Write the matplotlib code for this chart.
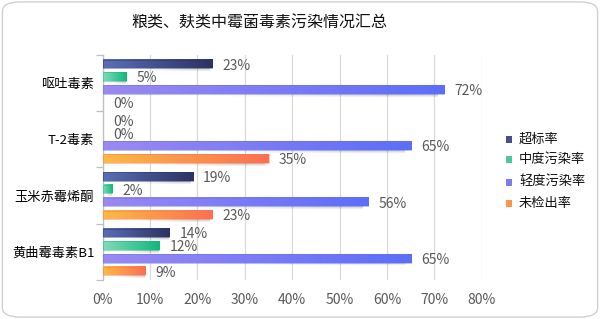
import matplotlib
matplotlib.use("Agg")
import matplotlib.pyplot as plt
import numpy as np
from matplotlib.colors import LinearSegmentedColormap, to_rgb
from matplotlib.patches import FancyBboxPatch, Rectangle

plt.rcParams['font.family'] = ['Noto Sans CJK SC', 'DejaVu Sans']

title = "粮类、麸类中霉菌毒素污染情况汇总"
categories = ["呕吐毒素", "T-2毒素", "玉米赤霉烯酮", "黄曲霉毒素B1"]
series = ["超标率", "中度污染率", "轻度污染率", "未检出率"]
exceed = [23, 0, 19, 14]
moderate = [5, 0, 2, 12]
light = [72, 65, 56, 65]
undetected = [0, 35, 23, 9]
xticks = [0, 10, 20, 30, 40, 50, 60, 70, 80]

values = [exceed, moderate, light, undetected]
grads = [("#5b6eb8", "#2c3262"), ("#80dbb7", "#10b87c"),
         ("#9c89f1", "#5c6ef8"), ("#fbba44", "#fd6f52")]

fig = plt.figure(figsize=(6.0, 3.19), dpi=100)
fig.patch.set_facecolor("white")
border = FancyBboxPatch((0.004, 0.006), 0.992, 0.988,
                        boxstyle="round,pad=0,rounding_size=0.03",
                        transform=fig.transFigure, facecolor="white",
                        edgecolor="#d0d0d0", linewidth=1.0, zorder=-10)
fig.patches.append(border)

ax = fig.add_axes([0.171, 0.122, 0.632, 0.706])
ax.set_facecolor("none")

step = 0.227
h = 0.15
offsets = [-1.5 * step, -0.5 * step, 0.5 * step, 1.5 * step]
ycent = np.arange(len(categories))

for si, vals in enumerate(values):
    c0, c1 = grads[si]
    cmap = LinearSegmentedColormap.from_list(f"g{si}", [c0, c1])
    for gi, v in enumerate(vals):
        yc = ycent[gi] + offsets[si]
        if v > 0:
            # soft shadow
            sh = np.zeros((6, 50, 4))
            xs = np.linspace(0, 1, 50)
            ys = np.linspace(1, 0, 6)
            a = 0.28 * np.clip(xs * 1.6 - 0.3, 0, 1)[None, :] * ys[:, None]
            sh[..., 3] = a
            ax.imshow(sh, extent=[v * 0.15, v * 0.98, yc + h / 2 + 0.07, yc + h / 2 - 0.005],
                      aspect="auto", interpolation="bilinear", zorder=2)
            grad = np.linspace(0, 1, 256)[None, :]
            ax.imshow(grad, cmap=cmap, extent=[0, v, yc + h / 2, yc - h / 2],
                      aspect="auto", interpolation="bilinear", zorder=3)
            ax.add_patch(Rectangle((0, yc - h / 2), v, h, facecolor="none",
                                   edgecolor=c1, linewidth=0.6, alpha=0.5, zorder=4))
        ax.text(v + 2.2, yc + 0.03, f"{v}%", va="center", ha="left",
                fontsize=10, color="#595959", zorder=5)

ax.set_xlim(0, 80)
ax.set_ylim(len(categories) - 0.5, -0.5)
ax.set_xticks(xticks)
ax.set_xticklabels([f"{t}%" for t in xticks], fontsize=10, color="#595959")
ax.tick_params(axis="x", length=0, pad=9)
ax.grid(axis="x", color="#d9d9d9", linewidth=0.9, zorder=0)
ax.set_axisbelow(True)

ax.set_yticks(ycent)
ax.set_yticklabels(categories, fontsize=9.5, color="#000000")
ax.tick_params(axis="y", length=0, pad=6)
ax.set_yticks(np.arange(-0.5, len(categories) + 0.5, 1), minor=True)
ax.tick_params(axis="y", which="minor", length=5, color="#bfbfbf", width=0.9)

for s in ["top", "right", "bottom"]:
    ax.spines[s].set_visible(False)
ax.spines["left"].set_color("#bfbfbf")
ax.spines["left"].set_linewidth(0.9)

fig.text(0.433, 0.927, title, ha="center", va="center", fontsize=11.5, color="#111111")

# legend
leg_y = [0.565, 0.500, 0.430, 0.363]
for si, name in enumerate(series):
    c0, c1 = grads[si]
    mix = tuple((np.array(to_rgb(c0)) + np.array(to_rgb(c1))) / 2)
    fig.patches.append(Rectangle((0.843, leg_y[si] - 0.012), 0.011, 0.022,
                                 transform=fig.transFigure, facecolor=mix,
                                 edgecolor="none"))
    fig.text(0.865, leg_y[si], name, ha="left", va="center", fontsize=9.5,
             color="#111111")

fig.savefig("out.png", dpi=100, facecolor="white")
